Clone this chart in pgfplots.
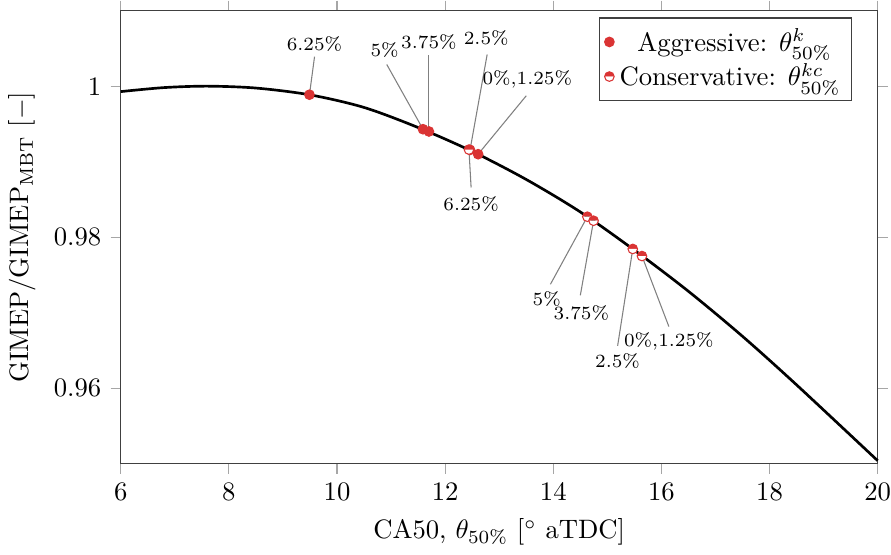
\documentclass[border=0pt]{standalone}
\usepackage{pgfplots}
\pgfplotsset{compat=1.18}
\usetikzlibrary{plotmarks}
\definecolor{mred}{RGB}{218,52,52}
\begin{document}
\begin{tikzpicture}
\begin{axis}[
  scale only axis,
  width=284pt, height=170pt,
  xmin=6, xmax=20, ymin=0.95, ymax=1.01,
  xtick={6,8,...,20},
  ytick={0.96,0.98,1},
  yticklabels={0.96,0.98,1},
  tick align=outside,
  major tick length=3.8pt,
  tick style={gray!70, thin},
  axis line style={black!75},
  xticklabel style={inner xsep=0pt},
  xlabel={CA50, $\theta_{50\%}$ [$^\circ$ aTDC]},
  ylabel={GIMEP$/$GIMEP$_{\mathrm{MBT}}$ [$-$]},
  legend style={at={(0.9655,0.985)}, anchor=north east, draw=black!75, row sep=-1pt, inner sep=2pt},
  legend cell align=left,
  clip=false,
]
% curve
\addplot[black, line width=1pt, smooth, forget plot] coordinates {
(6.0,0.99928) (6.8,0.99981) (7.6,1.00000) (8.5,0.99975) (9.5,0.99885)
(10.5,0.99718) (11.5,0.99452) (12.5,0.99136) (13.5,0.98764) (14.5,0.98334)
(15.5,0.97828) (16.5,0.97283) (17.5,0.96687) (18.5,0.96044) (20.0,0.95040)
};
% annotation lines
\draw[gray, thin] (axis cs:9.584,1.0039) -- (axis cs:9.49,0.99887);
\draw[gray, thin] (axis cs:10.92,1.00287) -- (axis cs:11.59,0.9943);
\draw[gray, thin] (axis cs:11.70,1.00407) -- (axis cs:11.70,0.9940);
\draw[gray, thin] (axis cs:12.777,1.0042) -- (axis cs:12.46,0.99156);
\draw[gray, thin] (axis cs:13.50,0.99873) -- (axis cs:12.61,0.99099);
\draw[gray, thin] (axis cs:12.48,0.98658) -- (axis cs:12.44,0.99160);
\draw[gray, thin] (axis cs:13.947,0.97376) -- (axis cs:14.63,0.98271);
\draw[gray, thin] (axis cs:14.50,0.97230) -- (axis cs:14.745,0.98218);
\draw[gray, thin] (axis cs:15.19,0.96562) -- (axis cs:15.47,0.97844);
\draw[gray, thin] (axis cs:16.138,0.96816) -- (axis cs:15.64,0.97750);
% labels
\begin{scope}[every node/.style={font=\scriptsize, inner sep=1pt}]
\node at (axis cs:9.584,1.00554) {6.25\%};
\node at (axis cs:10.88,1.00474) {5\%};
\node at (axis cs:11.70,1.00581) {3.75\%};
\node at (axis cs:12.76,1.00634) {2.5\%};
\node at (axis cs:13.52,1.00087) {0\%,1.25\%};
\node at (axis cs:12.48,0.98444) {6.25\%};
\node at (axis cs:13.88,0.97176) {5\%};
\node at (axis cs:14.52,0.97000) {3.75\%};
\node at (axis cs:15.19,0.96362) {2.5\%};
\node at (axis cs:16.138,0.96616) {0\%,1.25\%};
\end{scope}
% aggressive
\addplot[only marks, mark=*, mark size=1.8pt, mark options={draw=mred, fill=mred}] coordinates {
(9.49,0.99887) (11.59,0.9943) (11.70,0.9940) (12.46,0.99156) (12.61,0.99099)
};
\addlegendentry{\ \ Aggressive: $\theta^{k}_{50\%}$}
% conservative
\addplot[only marks, mark=halfcircle*, mark size=1.8pt, mark options={draw=mred, fill=white, color=mred}] coordinates {
(12.44,0.99160) (14.63,0.98271) (14.745,0.98218) (15.47,0.97844) (15.64,0.97750)
};
\addlegendentry{Conservative: $\theta^{kc}_{50\%}$}
\end{axis}
\end{tikzpicture}
\end{document}
